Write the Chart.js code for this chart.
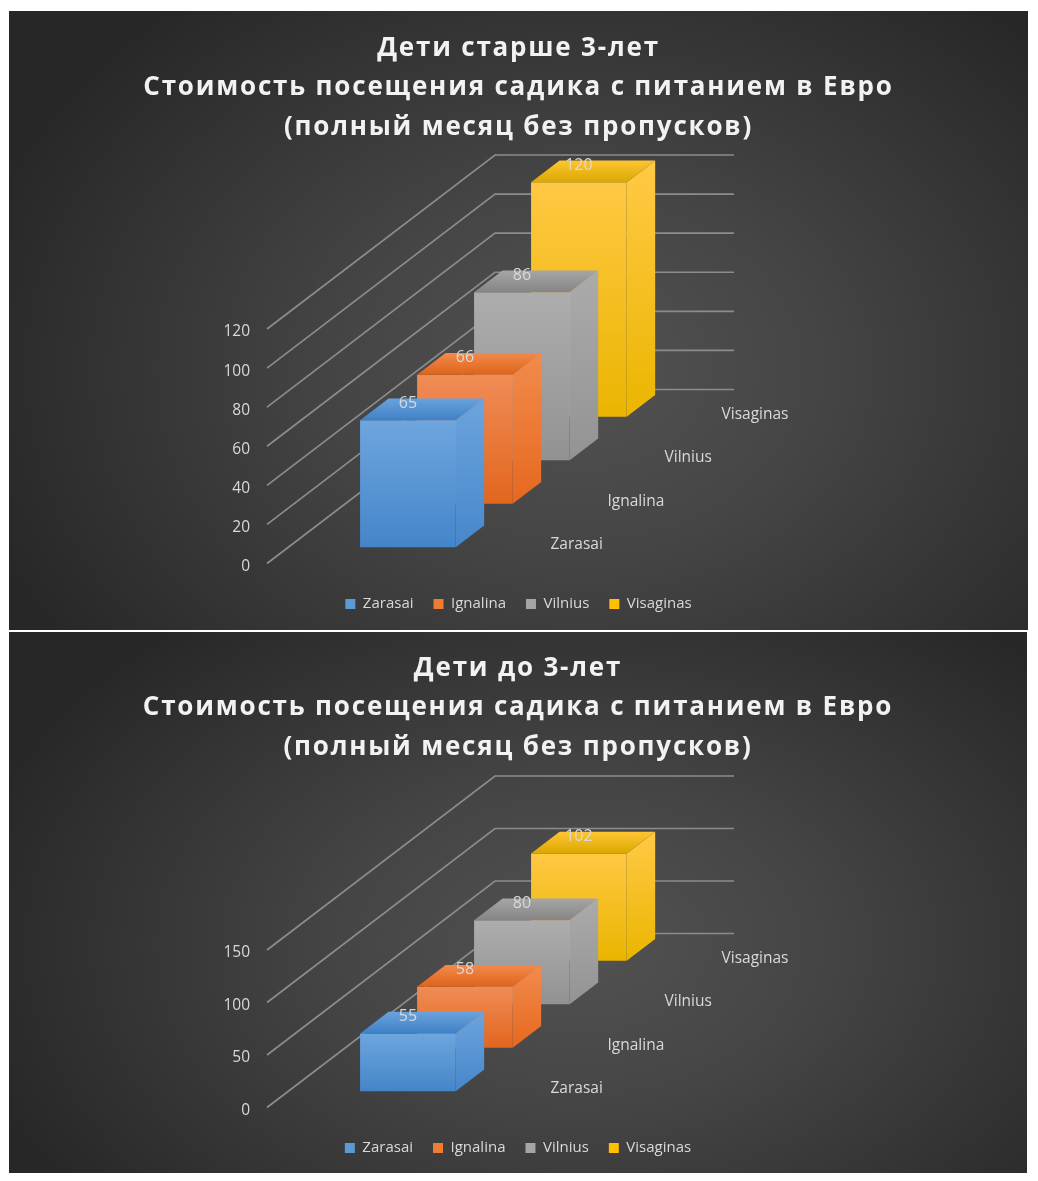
<!DOCTYPE html>
<html>
<head>
<meta charset="utf-8">
<script src="https://cdn.jsdelivr.net/npm/chart.js@4.4.1/dist/chart.umd.min.js"></script>
<style>
  body { margin: 0; background: #fff; }
  .panel {
    position: absolute;
    left: 9px;
    background: radial-gradient(ellipse 62% 78% at 56% 58%, #525252 0%, #454545 38%, #272727 100%);
  }
  #p1 { top: 11px; width: 1019px; height: 619px; }
  #p2 { top: 632px; width: 1018px; height: 541px; }
</style>
</head>
<body>
<div class="panel" id="p1"><canvas id="older"></canvas></div>
<div class="panel" id="p2"><canvas id="younger"></canvas></div>
<script>
// данные
const cities = ['Zarasai', 'Ignalina', 'Vilnius', 'Visaginas'];
const olderValues = [65, 66, 86, 120];
const youngerValues = [55, 58, 80, 102];
const olderTicks = [0, 20, 40, 60, 80, 100, 120];
const youngerTicks = [0, 50, 100, 150];
const olderTitle = ['Дети старше 3-лет', 'Стоимость посещения садика с питанием в Евро', '(полный месяц без пропусков)'];
const youngerTitle = ['Дети до 3-лет', 'Стоимость посещения садика с питанием в Евро', '(полный месяц без пропусков)'];

// оформление
const baseColors = ['#5b9bd5', '#ed7d31', '#a5a5a5', '#ffc000'];
const faceColors = [
    { front: ['#6ea6de', '#4485c9'], side: ['#6ca4dd', '#4687cb'], top: ['#3f80c6', '#6aa3dd'] },
    { front: ['#f08c56', '#e2661e'], side: ['#f28b4c', '#e6681f'], top: ['#de6419', '#f28a4c'] },
    { front: ['#adadad', '#929292'], side: ['#ababab', '#939393'], top: ['#858585', '#a6a6a6'] },
    { front: ['#ffc843', '#eab500'], side: ['#ffca45', '#ebb500'], top: ['#dba800', '#ffc533'] },
];
const textColor = '#d9d9d9';
const FRONT_LEFT = 258;   // left wall front edge
const FLOOR_W = 239;      // floor width
const DEPTH_X = 57, DEPTH_Y = 43.5;   // one series step into the picture
const BAR_FRONT = 0.375, BAR_DEPTH = 0.5;

Chart.defaults.font.family = "'Open Sans', sans-serif";
Chart.defaults.color = textColor;

function fillFace(ctx, pts, colors, x0, y0, x1, y1) {
    const g = ctx.createLinearGradient(x0, y0, x1, y1);
    g.addColorStop(0, colors[0]);
    g.addColorStop(1, colors[1]);
    ctx.fillStyle = g;
    ctx.beginPath();
    pts.forEach(([px, py], k) => k ? ctx.lineTo(px, py) : ctx.moveTo(px, py));
    ctx.closePath();
    ctx.fill();
}

const boxes3d = {
    id: 'boxes3d',
    afterLayout(chart) {
        // title in Excel has wide letter spacing
        const tb = chart.titleBlock;
        if (tb && !tb._spaced) {
            const draw = tb.draw.bind(tb);
            tb.draw = () => {
                chart.ctx.save();
                chart.ctx.letterSpacing = '1.8px';
                draw();
                chart.ctx.restore();
            };
            tb._spaced = true;
        }
    },
    beforeDatasetsDraw(chart) {
        const { ctx, chartArea: a, scales: { y } } = chart;
        const n = chart.data.datasets.length;
        const backX = n * DEPTH_X, backY = n * DEPTH_Y;
        ctx.save();

        // side wall + back wall gridlines
        ctx.strokeStyle = '#8c8c8c';
        ctx.lineWidth = 1.7;
        y.ticks.forEach(t => {
            const py = y.getPixelForValue(t.value);
            ctx.beginPath();
            ctx.moveTo(a.left, py);
            ctx.lineTo(a.left + backX, py - backY);
            ctx.lineTo(a.right + backX, py - backY);
            ctx.stroke();
        });

        // bars, back to front
        const ex = BAR_DEPTH * DEPTH_X, ey = BAR_DEPTH * DEPTH_Y;
        const fronts = [];
        for (let i = n - 1; i >= 0; i--) {
            const bar = chart.getDatasetMeta(i).data[0];
            const { x, y: top, base, width } = bar.getProps(['x', 'y', 'base', 'width'], true);
            const dx = (i + BAR_FRONT) * DEPTH_X, dy = (i + BAR_FRONT) * DEPTH_Y;
            const l = x - width / 2 + dx, r = x + width / 2 + dx;
            const t = top - dy, b = base - dy;
            const c = faceColors[i];
            fillFace(ctx, [[l, t], [r, t], [r, b], [l, b]], c.front, 0, t, 0, b);
            fillFace(ctx, [[r, t], [r + ex, t - ey], [r + ex, b - ey], [r, b]], c.side, 0, t - ey, 0, b);
            fillFace(ctx, [[l, t], [r, t], [r + ex, t - ey], [l + ex, t - ey]], c.top, 0, t, 0, t - ey);
            fronts[i] = { cx: (l + r) / 2, t };
        }

        // value labels
        ctx.fillStyle = textColor;
        ctx.font = "16px 'Open Sans', sans-serif";
        ctx.textAlign = 'center';
        ctx.textBaseline = 'middle';
        chart.data.datasets.forEach((ds, i) => {
            ctx.fillText(String(ds.data[0]), fronts[i].cx, fronts[i].t - 17);
        });

        // series (depth) axis labels
        ctx.font = "15.5px 'Open Sans', sans-serif";
        ctx.textAlign = 'left';
        const y0 = y.getPixelForValue(0);
        chart.data.datasets.forEach((ds, i) => {
            ctx.fillText(ds.label, a.right + (i + 0.5) * DEPTH_X + 16, y0 - (i + 0.5) * DEPTH_Y + 3);
        });

        ctx.restore();
        return false;
    },
};

function create3dChart(canvasId, titleLines, values, ticks, titleTop, legendBottom) {
    return new Chart(document.getElementById(canvasId), {
        type: 'bar',
        data: {
            labels: [''],
            datasets: cities.map((city, i) => ({
                label: city,
                data: [values[i]],
                backgroundColor: baseColors[i],
                borderWidth: 0,
                grouped: false,
                categoryPercentage: 1,
                barPercentage: 0.4,
            })),
        },
        options: {
            responsive: true,
            maintainAspectRatio: false,
            animation: false,
            layout: { padding: { left: 0, right: 0, top: 0, bottom: legendBottom } },
            plugins: {
                title: {
                    display: true,
                    text: titleLines,
                    color: '#f2f2f2',
                    font: { size: 26, weight: 'bold', lineHeight: '39.5px' },
                    padding: { top: titleTop, bottom: 318 - titleTop - 118.5 },
                },
                legend: {
                    position: 'bottom',
                    labels: {
                        color: textColor,
                        font: { size: 15 },
                        boxWidth: 10,
                        boxHeight: 10,
                        padding: 20,
                    },
                },
                tooltip: { enabled: false },
            },
            scales: {
                x: {
                    grid: { display: false, drawTicks: false },
                    border: { display: false },
                    ticks: { display: false },
                    afterFit: s => { s.height = 13; },
                },
                y: {
                    min: ticks[0],
                    max: ticks[ticks.length - 1],
                    grid: { display: false, drawTicks: false },
                    border: { display: false },
                    ticks: {
                        stepSize: ticks[1] - ticks[0],
                        padding: 17,
                        labelOffset: 3,
                        color: textColor,
                        font: { size: 15.5 },
                    },
                    afterFit: s => { s.width = FRONT_LEFT; },
                },
                y2: {
                    position: 'right',
                    grid: { display: false, drawTicks: false },
                    border: { display: false },
                    ticks: { display: false },
                    afterFit: s => { s.width = s.chart.width - FRONT_LEFT - FLOOR_W; },
                },
            },
        },
        plugins: [boxes3d],
    });
}

create3dChart('older', olderTitle, olderValues, olderTicks, 17.5, 8.5);
create3dChart('younger', youngerTitle, youngerValues, youngerTicks, 16.5, 7.5);
</script>
</body>
</html>
